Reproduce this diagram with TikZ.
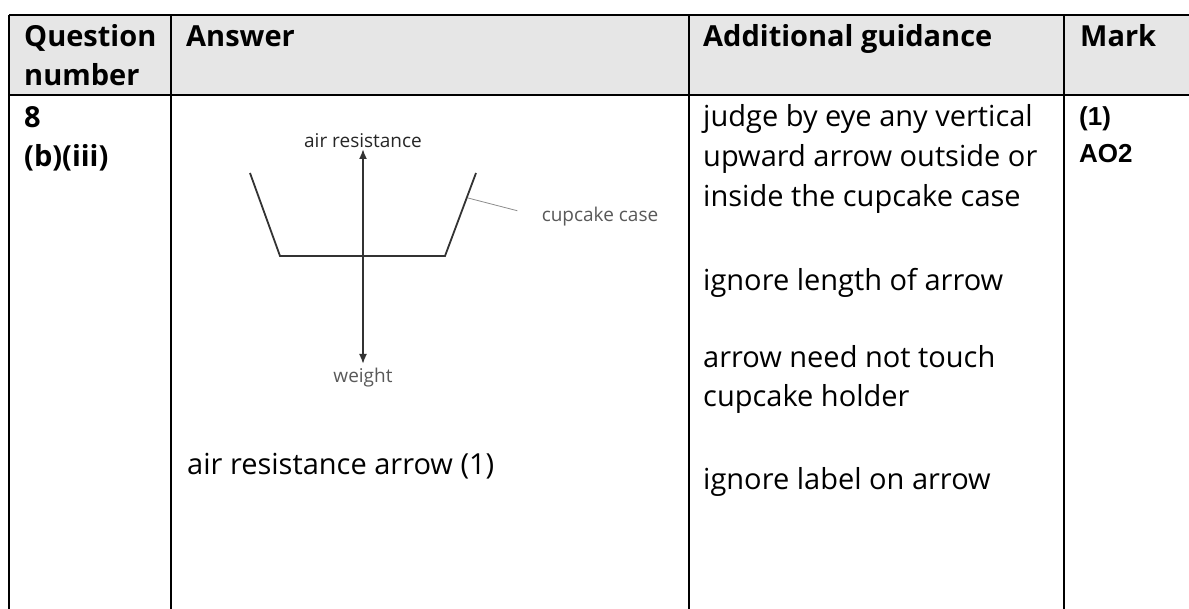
\documentclass[tikz,border=0pt]{standalone}
\usepackage{fontspec}
\setmainfont{Open Sans}
\newfontfamily\markfont{Liberation Sans}
\usetikzlibrary{arrows.meta,positioning}

\tikzset{
  rule/.style={line width=2pt, black},
  body/.style={anchor=base west, inner sep=0pt, font=\fontsize{29}{40}\selectfont},
  headtxt/.style={body, font=\bfseries\fontsize{29}{40}\selectfont},
  marktxt/.style={anchor=base west, inner sep=0pt, font=\markfont\bfseries\fontsize{26}{30}\selectfont},
  figlbl/.style={inner sep=0pt, font=\fontsize{19}{22}\selectfont},
  cupline/.style={line width=1.8pt, black!80},
}
\definecolor{headgrey}{RGB}{230,230,230}

\begin{document}
\begin{tikzpicture}[x=1pt, y=-1pt]
        \useasboundingbox (0, 0) rectangle (1189, 609);
        % header row
        \fill[headgrey] (9, 15) rectangle (1189, 95);
        \draw[rule] (9, 15) -- (1189, 15);
        \draw[rule] (9, 95) -- (1189, 95);
        \draw[rule] (9, 15) -- (9, 609);
        \draw[rule] (171, 15) -- (171, 609);
        \draw[rule] (689, 15) -- (689, 609);
        \draw[rule] (1064, 15) -- (1064, 609);

        \node[headtxt] (qnum1) at (24, 47) {Question};
        \node[headtxt] (qnum2) at (24, 86) {number};
        \node[headtxt] (answer) at (186, 47) {Answer};
        \node[headtxt] (guidance) at (703, 47) {Additional guidance};
        \node[headtxt] (mark) at (1080, 47) {Mark};

        % question number and mark
        \node[headtxt] (qno) at (24, 128) {8};
        \node[headtxt] (qpart) at (24, 167) {(b)(iii)};
        \node[marktxt] (markone) at (1079, 126) {(1)};
        \node[marktxt] (markao) at (1079, 163) {AO2};

        % cupcake case with forces
        \draw[cupline] (250, 173) -- (280, 256) -- (445, 256) -- (476, 173);
        \coordinate (centre) at (363, 256);
        \coordinate (tipup) at (363, 149);
        \coordinate (tipdown) at (363, 364);
        \draw[cupline, -{Latex[length=10pt, width=8pt]}] (centre) -- (tipup);
        \draw[cupline, -{Latex[length=10pt, width=8pt]}] (centre) -- (tipdown);
        \node[figlbl, text=black!85, above=1pt of tipup] (airres) {air resistance};
        \node[figlbl, text=black!65, below=4pt of tipdown] (weight) {weight};
        \node[figlbl, text=black!65] (case) at (600, 217) {cupcake case};
        \coordinate (caseside) at (468, 198);
        \draw[black!45, line width=0.8pt, shorten >=25pt] (caseside) -- (case.west);

        \node[body] (answertxt) at (187, 475) {air resistance arrow (1)};

        % additional guidance
        \node[body] (guide1) at (703, 127) {judge by eye any vertical};
        \node[body] (guide2) at (703, 167) {upward arrow outside or};
        \node[body] (guide3) at (703, 207) {inside the cupcake case};
        \node[body] (guide4) at (703, 291) {ignore length of arrow};
        \node[body] (guide5) at (703, 368) {arrow need not touch};
        \node[body] (guide6) at (703, 407) {cupcake holder};
        \node[body] (guide7) at (703, 489) {ignore label on arrow};
\end{tikzpicture}
\end{document}
